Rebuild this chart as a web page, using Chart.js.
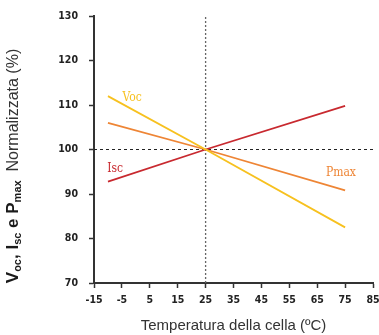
<!DOCTYPE html>
<html>
<head>
<meta charset="utf-8">
<script src="https://cdn.jsdelivr.net/npm/chart.js@4/dist/chart.umd.min.js"></script>
<style>
  html, body { margin: 0; padding: 0; background: #fff; }
  #wrap { width: 379px; height: 335px; position: relative; }
</style>
</head>
<body>
<div id="wrap"><canvas id="c" width="379" height="335"></canvas></div>
<script>
// ---- data ----
const temperatures = [-10, 25, 75];
const vocValues  = [112, 100, 82.5];
const pmaxValues = [106, 100, 90.8];
const iscValues  = [92.8, 100, 109.8];
const seriesNames = ['Voc', 'Pmax', 'Isc'];
const xTickRange = [-15, 85];
const yTickRange = [70, 130];
const refTemperature = 25;
const refLevel = 100;
const xTitle = 'Temperatura della cella (ºC)';

const colors = { Voc: '#F7C11F', Pmax: '#EE8535', Isc: '#C8292F' };

function pts(xs, ys) { return xs.map((x, i) => ({ x: x, y: ys[i] })); }

const seriesLabelPos = {
  Voc:  { x: -1.3, y: 111.6 },
  Isc:  { x: -7.4, y: 95.7 },
  Pmax: { x: 73.5, y: 94.8 }
};

const labelPlugin = {
  id: 'seriesLabels',
  afterDatasetsDraw(chart) {
    const ctx = chart.ctx, xs = chart.scales.x, ys = chart.scales.y;
    ctx.save();
    ctx.font = "12px 'DejaVu Serif Condensed', 'Liberation Serif', serif";
    ctx.textAlign = 'center';
    ctx.textBaseline = 'middle';
    for (const name of seriesNames) {
      const p = seriesLabelPos[name];
      ctx.fillStyle = colors[name];
      ctx.fillText(name, xs.getPixelForValue(p.x), ys.getPixelForValue(p.y));
    }
    ctx.restore();
  }
};

const yTitlePlugin = {
  id: 'yTitle',
  afterDraw(chart) {
    const ctx = chart.ctx;
    const big = "bold 17px 'Liberation Sans', Arial, sans-serif";
    const small = "bold 11px 'Liberation Sans', Arial, sans-serif";
    const norm = "16px 'Liberation Sans', Arial, sans-serif";
    const segs = [
      { t: 'V', f: big, dy: 0, c: '#1a1a1a' },
      { t: 'oc', f: small, dy: 3, c: '#1a1a1a' },
      { t: ', ', f: big, dy: 0, c: '#1a1a1a' },
      { t: 'I', f: big, dy: 0, c: '#1a1a1a' },
      { t: 'sc', f: small, dy: 3, c: '#1a1a1a' },
      { t: ' e ', f: big, dy: 0, c: '#1a1a1a' },
      { t: 'P', f: big, dy: 0, c: '#1a1a1a' },
      { t: 'max', f: small, dy: 3, c: '#1a1a1a' },
      { t: '  Normalizzata (%)', f: norm, dy: 0, c: '#333' }
    ];
    ctx.save();
    let total = 0;
    for (const s of segs) { ctx.font = s.f; s.w = ctx.measureText(s.t).width; total += s.w; }
    const cy = 166;
    ctx.translate(18, cy);
    ctx.rotate(-Math.PI / 2);
    ctx.textBaseline = 'alphabetic';
    ctx.textAlign = 'left';
    let x = -total / 2;
    for (const s of segs) {
      ctx.font = s.f; ctx.fillStyle = s.c;
      ctx.fillText(s.t, x, s.dy);
      x += s.w;
    }
    ctx.restore();
  }
};

const tickFont = { family: "'DejaVu Sans Condensed', 'Liberation Sans Narrow', 'Liberation Sans', sans-serif", size: 10.5, weight: 'bold' };

new Chart(document.getElementById('c'), {
  type: 'line',
  data: {
    datasets: [
      { label: 'Voc', data: pts(temperatures, vocValues), borderColor: colors.Voc, borderWidth: 1.8, pointRadius: 0, tension: 0, order: 1 },
      { label: 'Pmax', data: pts(temperatures, pmaxValues), borderColor: colors.Pmax, borderWidth: 1.8, pointRadius: 0, tension: 0, order: 1 },
      { label: 'Isc', data: pts(temperatures, iscValues), borderColor: colors.Isc, borderWidth: 1.8, pointRadius: 0, tension: 0, order: 1 },
      { label: 'refT', data: [{ x: refTemperature, y: yTickRange[0] }, { x: refTemperature, y: yTickRange[1] }], borderColor: '#666', borderWidth: 1.3, borderDash: [2, 2], pointRadius: 0, order: 2 },
      { label: 'refL', data: [{ x: xTickRange[0], y: refLevel }, { x: xTickRange[1], y: refLevel }], borderColor: '#222', borderWidth: 1, borderDash: [3, 3], pointRadius: 0, order: 2 }
    ]
  },
  options: {
    responsive: false,
    animation: false,
    layout: { padding: { top: 16, right: 6, left: 0, bottom: 0 } },
    plugins: { legend: { display: false }, tooltip: { enabled: false } },
    scales: {
      x: {
        type: 'linear', min: xTickRange[0], max: xTickRange[1],
        ticks: { stepSize: 10, color: '#222', font: tickFont, padding: 6, maxRotation: 0 },
        grid: { drawOnChartArea: false, drawTicks: true, tickLength: 5, color: '#333', tickWidth: 1.5 },
        border: { display: true, color: '#333', width: 2 },
        title: { display: true, text: xTitle, color: '#333', font: { family: "'Liberation Sans', Arial, sans-serif", size: 15 }, padding: { top: 5, bottom: 0 } },
        afterFit(s) { s.height = 52; s.paddingRight = 0; s.paddingLeft = 0; }
      },
      y: {
        type: 'linear', min: yTickRange[0], max: yTickRange[1],
        ticks: { stepSize: 10, color: '#222', font: tickFont, padding: 11 },
        grid: { drawOnChartArea: false, drawTicks: true, tickLength: 5, color: '#333', tickWidth: 1.5 },
        border: { display: true, color: '#333', width: 2 },
        afterFit(s) { s.width = 94; s.paddingTop = 0; s.paddingBottom = 0; }
      }
    }
  },
  plugins: [labelPlugin, yTitlePlugin]
});
</script>
</body>
</html>
